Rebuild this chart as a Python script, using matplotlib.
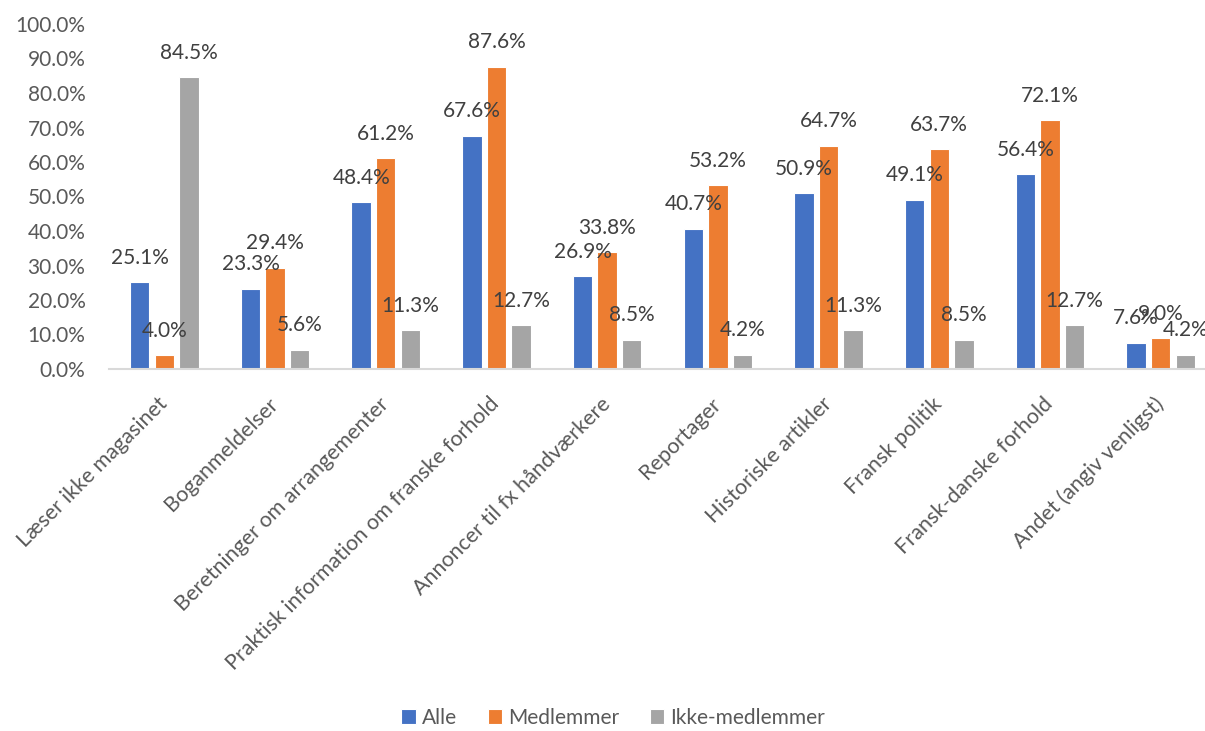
import matplotlib
matplotlib.use("Agg")
import matplotlib.pyplot as plt
import numpy as np

plt.rcParams["font.family"] = ["Lato", "DejaVu Sans"]

categories = [
    "Læser ikke magasinet",
    "Boganmeldelser",
    "Beretninger om arrangementer",
    "Praktisk information om franske forhold",
    "Annoncer til fx håndværkere",
    "Reportager",
    "Historiske artikler",
    "Fransk politik",
    "Fransk-danske forhold",
    "Andet (angiv venligst)",
]
series_names = ["Alle", "Medlemmer", "Ikke-medlemmer"]
alle = [25.1, 23.3, 48.4, 67.6, 26.9, 40.7, 50.9, 49.1, 56.4, 7.6]
medlemmer = [4.0, 29.4, 61.2, 87.6, 33.8, 53.2, 64.7, 63.7, 72.1, 9.0]
ikke_medlemmer = [84.5, 5.6, 11.3, 12.7, 8.5, 4.2, 11.3, 8.5, 12.7, 4.2]
y_ticks = [0, 10, 20, 30, 40, 50, 60, 70, 80, 90, 100]

colors = ["#4472C4", "#ED7D31", "#A5A5A5"]
label_color = "#404040"
axis_text = "#595959"
fs = 15

fig = plt.figure(figsize=(12.05, 7.31), dpi=100)
ax = fig.add_axes([109 / 1205, 362 / 731, 1107 / 1205, 345 / 731])

x = np.arange(len(categories))
width = 0.175
step = 0.222
for i, (name, vals, col) in enumerate(zip(series_names, [alle, medlemmer, ikke_medlemmer], colors)):
    pos = x + (i - 1) * step
    bars = ax.bar(pos, vals, width=width, color=col, edgecolor="white",
                  linewidth=0.8, label=name, zorder=2)
    for b, v in zip(bars, vals):
        ax.annotate(f"{v:.1f}%", (b.get_x() + b.get_width() / 2, v),
                    xytext=(0, 17.5), textcoords="offset points",
                    ha="center", va="center", fontsize=fs, color=label_color,
                    zorder=3)

ax.set_xlim(-0.5, len(categories) - 0.5)
ax.set_ylim(0, 100)
ax.set_yticks(y_ticks)
ax.set_yticklabels([f"{t:.1f}%" for t in y_ticks], fontsize=fs, color=axis_text)
ax.set_xticks(x)
ax.set_xticklabels(categories, rotation=45, ha="right", va="center",
                   rotation_mode="anchor", fontsize=15.5, color=axis_text)
ax.tick_params(axis="x", length=0, pad=23)
ax.tick_params(axis="y", length=0, pad=17)
for s in ["top", "right", "left"]:
    ax.spines[s].set_visible(False)
ax.spines["bottom"].set_color("#D9D9D9")
ax.spines["bottom"].set_linewidth(1.5)
ax.spines["bottom"].set_zorder(4)

fig.legend(loc="center", bbox_to_anchor=(0.509, 0.018), ncol=3, frameon=False,
           fontsize=fs, handlelength=0.7, handleheight=0.7, handletextpad=0.3,
           columnspacing=1.45, labelcolor=axis_text)

fig.savefig("out.png", dpi=100)
